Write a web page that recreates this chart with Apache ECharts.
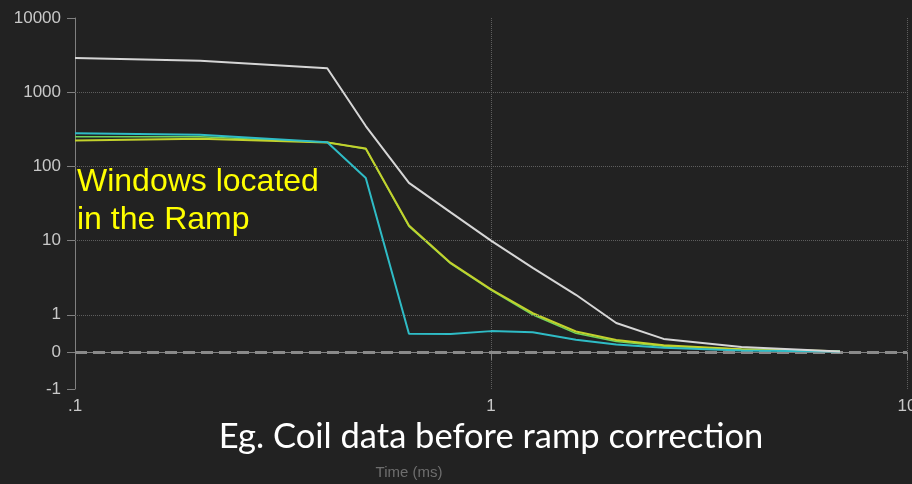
<!DOCTYPE html>
<html>
<head>
<meta charset="utf-8">
<script src="https://cdn.jsdelivr.net/npm/echarts@6/dist/echarts.min.js"></script>
<style>
html,body{margin:0;padding:0;background:#222222;}
#chart{width:912px;height:484px;}
</style>
</head>
<body>
<div id="chart"></div>
<script>
// ---- data ----
const times      = [0.1, 0.2, 0.404, 0.5, 0.635, 0.8, 1.0, 1.26, 1.6, 2.0, 2.6, 4.0, 6.9];
const whiteVals  = [2900, 2650, 2100, 350, 60, 24, 10, 4.3, 1.86, 0.78, 0.35, 0.13, 0.01];
const greenVals  = [250, 250, 212, 172, 15.5, 4.9, 2.15, 1.0, 0.5, 0.28, 0.15, 0.07, 0.02];
const yellowVals = [224, 235, 210, 174, 16, 5.0, 2.2, 1.05, 0.55, 0.32, 0.18, 0.07, 0.02];
const cyanVals   = [280, 268, 212, 70, 0.49, 0.48, 0.56, 0.53, 0.33, 0.2, 0.11, 0.04, 0.01];
const yTickValues = [-1, 0, 1, 10, 100, 1000, 10000];
const xTickLabels = {0.1: '.1', 1: '1', 10: '10'};
const gridYValues = [1, 10, 100, 1000];
const annotation = 'Windows located\nin the Ramp';
const subtitle = 'Eg. Coil data before ramp correction';
const xName = 'Time (ms)';

// symmetric log transform: linear in (-1,1), log beyond
function sym(v) {
  const a = Math.abs(v);
  return a < 1 ? v * 0.5 : Math.sign(v) * (Math.log10(a) + 0.5);
}
function pairs(vals) { return times.map((t, i) => [t, sym(vals[i])]); }

const chart = echarts.init(document.getElementById('chart'));
const tickT = yTickValues.map(sym);

const option = {
  backgroundColor: '#222222',
  animation: false,
  grid: {left: 75, right: 5, top: 18, bottom: 95, containLabel: false, outerBoundsMode: 'none'},
  xAxis: {
    type: 'log', logBase: 10, min: 0.1, max: 10,
    axisLine: {show: true, lineStyle: {color: '#808080', width: 1}},
    axisTick: {show: true, length: 8, lineStyle: {color: '#808080'}},
    minorTick: {show: false},
    axisLabel: {
      color: '#c8c8c8', fontSize: 17, fontFamily: 'Liberation Sans', margin: 9,
      formatter: function (v) {
        for (const k in xTickLabels) { if (Math.abs(v - Number(k)) < 1e-9 * Number(k) + 1e-12) return xTickLabels[k]; }
        return '';
      }
    },
    splitLine: {show: true, lineStyle: {color: '#5e5e5e', type: 'dotted', width: 1}}
  },
  yAxis: {
    type: 'value', min: sym(-1), max: sym(10000),
    axisLine: {show: true, onZero: false, lineStyle: {color: '#808080', width: 1}},
    axisTick: {show: true, length: 8, customValues: tickT, lineStyle: {color: '#808080'}},
    axisLabel: {
      color: '#c8c8c8', fontSize: 17, fontFamily: 'Liberation Sans', margin: 14,
      customValues: tickT,
      formatter: function (val) {
        for (let i = 0; i < yTickValues.length; i++) {
          if (Math.abs(tickT[i] - val) < 1e-6) return String(yTickValues[i]);
        }
        return '';
      }
    },
    splitLine: {show: false}
  },
  series: [
    {
      type: 'line', data: [], silent: true,
      markLine: {
        silent: true, symbol: 'none', label: {show: false}, animation: false,
        data: gridYValues.map(v => ({yAxis: sym(v), lineStyle: {color: '#5e5e5e', type: 'dotted', width: 1}}))
          .concat([{yAxis: sym(0), lineStyle: {color: '#8a8a8a', type: [12, 6], width: 3}}])
      }
    },
    {name: 'green', type: 'line', data: pairs(greenVals), showSymbol: false, lineStyle: {color: '#6fd45c', width: 1.5}, z: 3},
    {name: 'yellow', type: 'line', data: pairs(yellowVals), showSymbol: false, lineStyle: {color: '#c3d22c', width: 2}, z: 4},
    {name: 'cyan', type: 'line', data: pairs(cyanVals), showSymbol: false, lineStyle: {color: '#2fbcc6', width: 2}, z: 5},
    {name: 'white', type: 'line', data: pairs(whiteVals), showSymbol: false, lineStyle: {color: '#d6d6d6', width: 2}, z: 6}
  ],
  graphic: [
    {type: 'text', left: 77, top: 163, z: 100,
     style: {text: annotation, fill: '#ffff00', font: '32px "Liberation Sans"', lineHeight: 38}},
    {type: 'text', x: 491, y: 437, z: 100,
     style: {text: subtitle, fill: '#ffffff', font: '34.5px Lato', textAlign: 'center', textVerticalAlign: 'middle'}},
    {type: 'text', x: 409, y: 473, z: 100,
     style: {text: xName, fill: '#6e6e6e', font: '15px "Liberation Sans"', textAlign: 'center', textVerticalAlign: 'middle'}}
  ]
};
chart.setOption(option);
</script>
</body>
</html>
